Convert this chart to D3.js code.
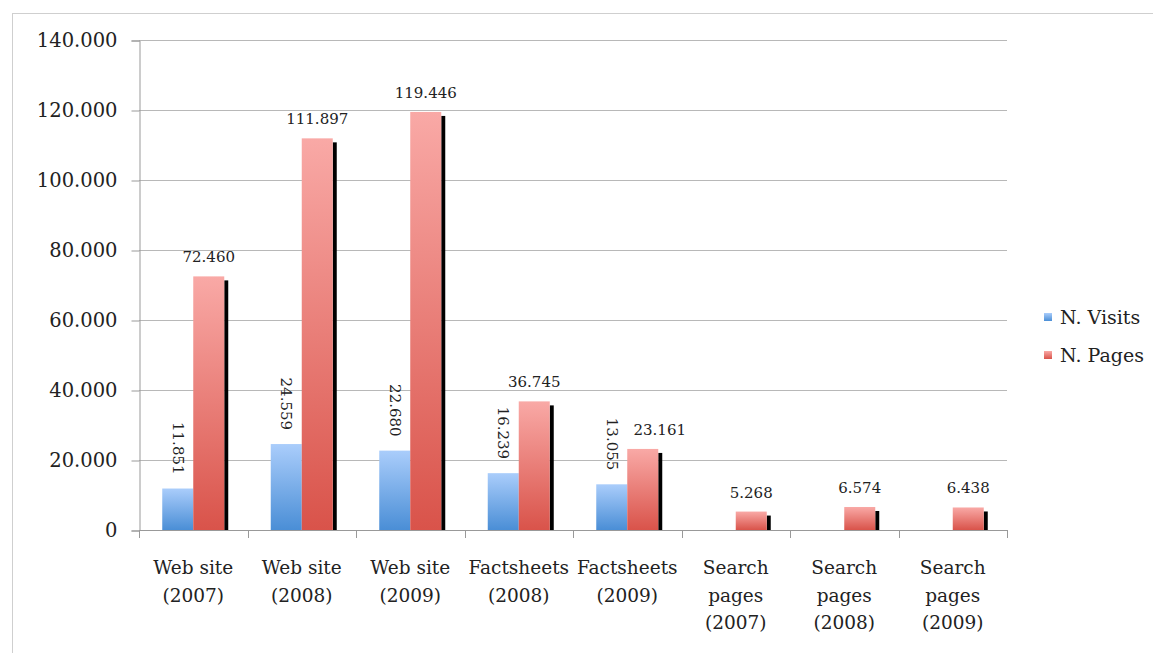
<!DOCTYPE html>
<html lang="en">
<head>
<meta charset="UTF-8">
<title>Visits and Pages</title>
<script src="https://d3js.org/d3.v7.min.js"></script>
<style>
  body { margin: 0; background: #fff; }
  text { font-family: "DejaVu Serif", serif; fill: #222; }
</style>
</head>
<body>
<svg id="chart" width="1153" height="653"></svg>
<script>
// data
const categories = [
  ['Web site', '(2007)'], ['Web site', '(2008)'], ['Web site', '(2009)'],
  ['Factsheets', '(2008)'], ['Factsheets', '(2009)'],
  ['Search', 'pages', '(2007)'], ['Search', 'pages', '(2008)'], ['Search', 'pages', '(2009)']
];
const visits = [11851, 24559, 22680, 16239, 13055, null, null, null];
const pages = [72460, 111897, 119446, 36745, 23161, 5268, 6574, 6438];
const seriesNames = ['N. Visits', 'N. Pages'];
const yTicks = [0, 20000, 40000, 60000, 80000, 100000, 120000, 140000];

const svg = d3.select('#chart');
const plotLeft = 139, plotRight = 1007, plotTop = 40, plotBottom = 530;

let fmt = function(v) {
  if (v === 0) return '0';
  return d3.format(',')(v).replace(/,/g, '.');
};

// outer frame
svg.append('rect')
  .attr('x', 12.5).attr('y', 13.5)
  .attr('width', 1150).attr('height', 650)
  .style('fill', 'none').style('stroke', '#cfcfcf');

// gradients
const defs = svg.append('defs');
let addGrad = function(id, c1, c2) {
  const g = defs.append('linearGradient').attr('id', id)
    .attr('x1', 0).attr('y1', 0).attr('x2', 0).attr('y2', 1);
  g.append('stop').attr('offset', '0%').attr('stop-color', c1);
  g.append('stop').attr('offset', '100%').attr('stop-color', c2);
};
addGrad('gBlue', '#aacdfb', '#4a8ed6');
addGrad('gRed', '#f9a9a6', '#d9534a');

const x = d3.scaleBand().domain(d3.range(categories.length)).range([plotLeft, plotRight]);
const y = d3.scaleLinear().domain([0, 140000]).range([plotBottom, plotTop]);
const barW = 31;

// grid
svg.append('g').selectAll('line').data(yTicks.slice(1)).join('line')
  .attr('x1', plotLeft).attr('x2', plotRight)
  .attr('y1', d => Math.round(y(d)) + 0.5).attr('y2', d => Math.round(y(d)) + 0.5)
  .style('stroke', '#b8b8b8').style('stroke-width', 1);

// y axis
const yAxis = d3.axisLeft(y).tickValues(yTicks).tickFormat(fmt).tickSize(8).tickPadding(14);
const ya = svg.append('g').attr('transform', 'translate(' + (plotLeft + 0.5) + ',0.5)').call(yAxis);
ya.select('.domain').style('stroke', '#999');
ya.selectAll('.tick line').style('stroke', '#999');
ya.selectAll('.tick text').style('font-size', '19.5px').style('font-family', '"DejaVu Serif", serif').style('fill', '#222');

// x axis line and separators
svg.append('line').attr('x1', plotLeft).attr('x2', plotRight).attr('y1', plotBottom + 0.5).attr('y2', plotBottom + 0.5)
  .style('stroke', '#999');
svg.append('g').selectAll('line').data(d3.range(categories.length + 1)).join('line')
  .attr('x1', d => Math.round(plotLeft + d * x.bandwidth()) + 0.5)
  .attr('x2', d => Math.round(plotLeft + d * x.bandwidth()) + 0.5)
  .attr('y1', plotBottom).attr('y2', plotBottom + 8)
  .style('stroke', '#999');

// category labels
const cl = svg.append('g').selectAll('text').data(categories).join('text')
  .attr('text-anchor', 'middle')
  .style('font-size', '18.5px');
cl.each(function(d, i) {
  d3.select(this).selectAll('tspan').data(d).join('tspan')
    .attr('x', x(i) + x.bandwidth() / 2)
    .attr('y', (t, j) => 574 + j * 27.5)
    .text(t => t);
});

// bars
const groups = svg.append('g').selectAll('g').data(categories).join('g');
groups.each(function(d, i) {
  const g = d3.select(this);
  const cx = x(i) + x.bandwidth() / 2;
  const v = visits[i], p = pages[i];
  if (v) {
    g.append('rect').attr('x', cx - barW).attr('y', y(v))
      .attr('width', barW).attr('height', plotBottom - y(v))
      .style('fill', 'url(#gBlue)');
    g.append('text')
      .attr('transform', 'translate(' + (cx - barW / 2) + ',' + (y(v) - 14) + ') rotate(90)')
      .attr('text-anchor', 'end').attr('dy', '0.35em')
      .style('font-size', '15px')
      .text(fmt(v));
  }
  // shadow
  g.append('rect').attr('x', cx + barW).attr('y', y(p) + 4)
    .attr('width', 4).attr('height', plotBottom - y(p) - 4)
    .style('fill', '#000');
  g.append('rect').attr('x', cx).attr('y', y(p))
    .attr('width', barW).attr('height', plotBottom - y(p))
    .style('fill', 'url(#gRed)');
  // label pushed right when it would collide with the rotated visits label
  const shift = (v && y(p) - y(v) > -50) ? 17 : 0;
  g.append('text')
    .attr('x', cx + barW / 2 + shift).attr('y', y(p) - 14)
    .attr('text-anchor', 'middle')
    .style('font-size', '15px')
    .text(fmt(p));
});

// legend
const leg = svg.append('g').selectAll('g').data(seriesNames).join('g')
  .attr('transform', (d, i) => 'translate(1044,' + (313 + i * 38) + ')');
leg.append('rect').attr('width', 8).attr('height', 8)
  .style('fill', (d, i) => i === 0 ? 'url(#gBlue)' : 'url(#gRed)');
leg.append('text').attr('x', 16).attr('y', 4).attr('dy', '0.35em')
  .style('font-size', '19px')
  .text(d => d);
</script>
</body>
</html>
